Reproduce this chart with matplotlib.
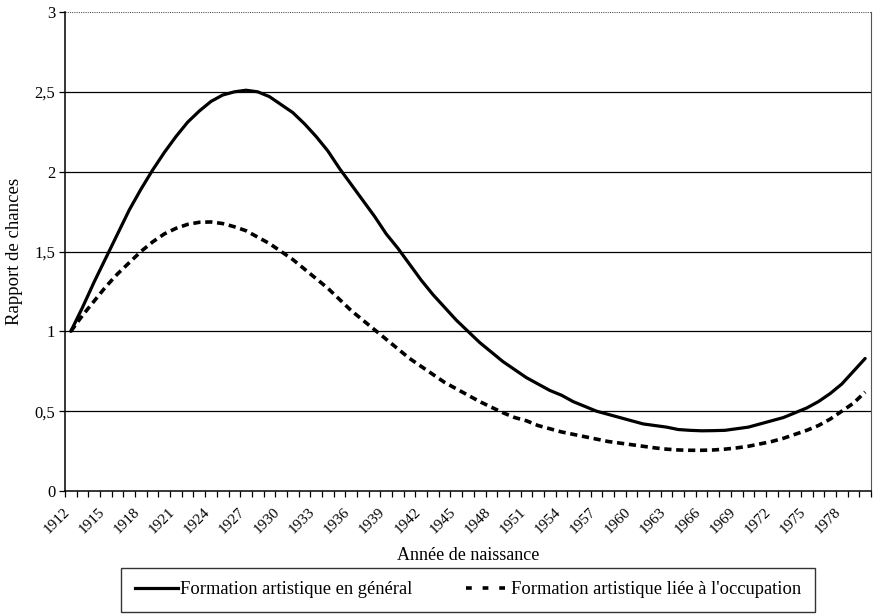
import matplotlib
matplotlib.use("Agg")
import matplotlib.pyplot as plt
import matplotlib.transforms as mtransforms
from matplotlib.lines import Line2D
import numpy as np

years = list(range(1912, 1981))

general = [1.00, 1.15, 1.31, 1.46, 1.61, 1.76, 1.89, 2.01, 2.12, 2.22,
           2.31, 2.38, 2.44, 2.48, 2.50, 2.51, 2.50, 2.47, 2.42, 2.37,
           2.30, 2.22, 2.13, 2.02, 1.92, 1.82, 1.72, 1.61, 1.52, 1.42,
           1.32, 1.23, 1.15, 1.07, 1.00, 0.93, 0.87, 0.81, 0.76, 0.71,
           0.67, 0.63, 0.60, 0.56, 0.53, 0.50, 0.48, 0.46, 0.44, 0.42,
           0.41, 0.40, 0.385, 0.38, 0.377, 0.378, 0.38, 0.39, 0.40, 0.42,
           0.44, 0.46, 0.49, 0.52, 0.56, 0.61, 0.67, 0.75, 0.83]

occupation = [1.00, 1.10, 1.19, 1.28, 1.36, 1.43, 1.50, 1.56, 1.61, 1.645,
              1.67, 1.683, 1.685, 1.675, 1.655, 1.63, 1.59, 1.55, 1.50, 1.45,
              1.39, 1.33, 1.27, 1.20, 1.13, 1.07, 1.01, 0.95, 0.89, 0.83,
              0.78, 0.73, 0.68, 0.64, 0.60, 0.56, 0.525, 0.49, 0.46, 0.44,
              0.41, 0.39, 0.37, 0.355, 0.34, 0.325, 0.31, 0.30, 0.29, 0.28,
              0.27, 0.262, 0.257, 0.255, 0.255, 0.257, 0.262, 0.27, 0.28, 0.295,
              0.31, 0.33, 0.355, 0.38, 0.41, 0.45, 0.50, 0.55, 0.62]

label_years = list(range(1912, 1981, 3))
y_ticks = [0, 0.5, 1, 1.5, 2, 2.5, 3]
y_labels = ["0", "0,5", "1", "1,5", "2", "2,5", "3"]

series_names = ["Formation artistique en général",
                "Formation artistique liée à l'occupation"]

plt.rcParams['font.family'] = ['Liberation Serif', 'DejaVu Serif']

W, H = 873, 614
fig = plt.figure(figsize=(W / 100, H / 100), dpi=100)
ax = fig.add_axes([65 / W, (H - 491) / H, (871 - 65) / W, (491 - 12) / H])

for yv in y_ticks[1:-1]:
    ax.axhline(yv, color='black', lw=0.9, zorder=1)
ax.axhline(3, color='#555555', lw=0.8, ls=(0, (1, 1)), zorder=1)

ax.plot(years, general, color='black', lw=2.3, solid_capstyle='round', zorder=3)
ax.plot(years, occupation, color='black', lw=2.6, ls=(0, (2.0, 1.3)), zorder=3)

ax.set_xlim(1911.55, 1980.4)
ax.set_ylim(0, 3)

ax.set_yticks(y_ticks)
ax.set_yticklabels(y_labels, fontsize=12)
ax.tick_params(axis='y', direction='out', length=4, width=0.9, pad=3)

ax.set_xticks(label_years)
ax.set_xticklabels([str(y) for y in label_years], rotation=45, ha='right',
                   va='center', rotation_mode='anchor', fontsize=11)
ax.tick_params(axis='x', which='major', length=0, pad=14)
offset = mtransforms.ScaledTranslation(-3 / 100, 0, fig.dpi_scale_trans)
for lab in ax.get_xticklabels():
    lab.set_transform(lab.get_transform() + offset)
ax.set_xticks(np.arange(1911.5, 1981, 1.0), minor=True)
ax.tick_params(axis='x', which='minor', direction='out', length=4, width=0.9)

for s in ['left', 'bottom']:
    ax.spines[s].set_color('black')
    ax.spines[s].set_linewidth(1.1)
ax.spines['top'].set_visible(False)
ax.spines['right'].set_color('#555555')
ax.spines['right'].set_linewidth(0.8)
ax.spines['right'].set_linestyle((0, (1, 1)))

ax.set_ylabel("Rapport de chances", fontsize=13.5, labelpad=8)
fig.text(468 / W, 1 - 556 / H, "Année de naissance", fontsize=13,
         ha='center', va='center')

h1 = Line2D([], [], color='black', lw=2.3)
h2 = Line2D([], [], color='black', lw=2.6, ls=(0, (1.6, 3.0)))
leg = fig.legend(handles=[h1, h2], labels=series_names, loc='center',
                 bbox_to_anchor=(468 / W, 1 - 590 / H),
                 ncol=2, frameon=True, fancybox=False, edgecolor='black',
                 fontsize=13.3, handlelength=2.35, handletextpad=0.1,
                 columnspacing=2.92, borderpad=0.75)
leg.get_frame().set_linewidth(1.0)

fig.savefig("out.png", dpi=100, facecolor='white')
